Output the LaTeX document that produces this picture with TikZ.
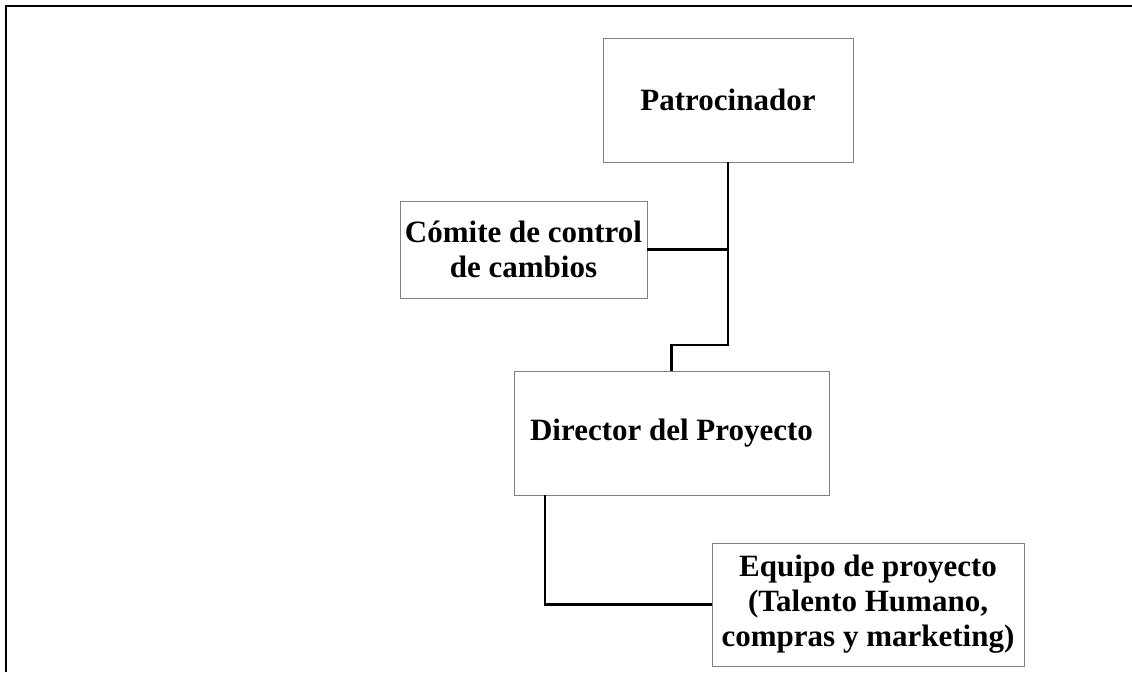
\documentclass[tikz,border=0pt]{standalone}
\usepackage{fontspec}
\setmainfont{Liberation Serif}
\tikzset{
  box/.style={rectangle,draw=gray,line width=0.9pt,align=center,inner sep=2pt,
    font=\fontsize{31}{35}\selectfont\bfseries},
  link/.style={line width=2.3pt}
}
\begin{document}
\begin{tikzpicture}[x=1pt,y=-1pt]
    \useasboundingbox (0,0) rectangle (1132,672);
    \draw[line width=2pt] (5.5,672) -- (5.5,5.5) -- (1132,5.5);

    \node(patro)[box,minimum width=250pt,minimum height=124pt] at (728,100) {Patrocinador};
    \node(comite)[box,minimum width=247pt,minimum height=97pt] at (523.5,249.5) {Cómite de control\\de cambios};
    \node(director)[box,minimum width=315pt,minimum height=124pt] at (671.5,433) {Director del Proyecto};
    \node(equipo)[box,minimum width=312pt,minimum height=123pt] at (868,604.5) {Equipo de proyecto\\(Talento Humano,\\compras y marketing)};

    \coordinate(knee) at (728,345);
    \draw[link] (patro.south) -- (knee) -| (director.north);
    \draw[link] (comite.east) -- (comite.east -| patro.south);
    \draw[link] ([xshift=31.5pt]director.south west) |- (equipo.west);
  \end{tikzpicture}
\end{document}
